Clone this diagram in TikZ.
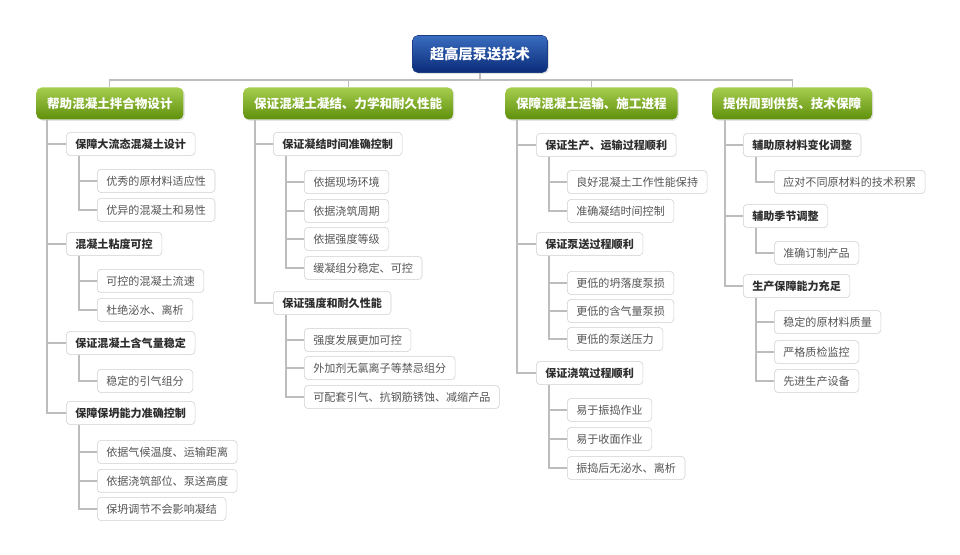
\documentclass[tikz,border=0pt]{standalone}
\usepackage{fontspec}
\setmainfont{Noto Sans CJK SC}
\usetikzlibrary{calc,shadows}
\definecolor{boxgray}{HTML}{CFCFCF}
\definecolor{conngray}{HTML}{BDBDBD}
\definecolor{textdark}{HTML}{2E2E2E}
\definecolor{textgray}{HTML}{555555}
\definecolor{greentop}{HTML}{A6CE4E}
\definecolor{greenbot}{HTML}{5F8F0C}
\definecolor{bluetop}{HTML}{3A6DC0}
\definecolor{bluebot}{HTML}{0A2B78}
\definecolor{blueline}{HTML}{1B3E85}
\tikzset{
  rootbox/.style={draw=blueline, top color=bluetop, bottom color=bluebot, rounded corners=4pt,
    text=white, font=\fontsize{10.7pt}{12pt}\selectfont\bfseries, minimum width=101.25pt, minimum height=27.75pt,
    drop shadow={opacity=0.25, shadow xshift=1pt, shadow yshift=-1pt}},
  headbox/.style={draw=none, top color=greentop, bottom color=greenbot, rounded corners=4pt,
    text=white, font=\fontsize{9.4pt}{11pt}\selectfont\bfseries, minimum height=24pt, inner xsep=8.2pt, inner ysep=0pt,
    anchor=west, drop shadow={opacity=0.2, shadow xshift=1pt, shadow yshift=-1pt}},
  lvtwo/.style={draw=boxgray, fill=white, rounded corners=3pt, text=textdark,
    font=\fontsize{8.3pt}{10pt}\selectfont\bfseries, minimum height=17.5pt, inner xsep=6.8pt, inner ysep=0pt, anchor=west},
  lvthree/.style={lvtwo, text=textgray, font=\fontsize{8.3pt}{10pt}\selectfont},
  conn/.style={draw=conngray, line width=0.8pt},
}
\begin{document}
\begin{tikzpicture}[x=0.75pt,y=-0.75pt]
\fill[white] (0,0) rectangle (960,555);
\useasboundingbox (0,0) rectangle (960,555);

% root and headers
\node[rootbox] (root) at (480,54) {超高层泵送技术};
\node[headbox] (h1) at (36,103.5) {帮助混凝土拌合物设计};
\node[headbox] (h2) at (243,103.5) {保证混凝土凝结、力学和耐久性能};
\node[headbox] (h3) at (505,103.5) {保障混凝土运输、施工进程};
\node[headbox] (h4) at (712,103.5) {提供周到供货、技术保障};
\coordinate (bus) at (480,80);
\draw[conn] (root.south) -- (bus);
\draw[conn] (h1.north) -- (h1.north |- bus) -- (h4.north |- bus) -- (h4.north);
\draw[conn] (h2.north) -- (h2.north |- bus);
\draw[conn] (h3.north) -- (h3.north |- bus);

% column 1
\node[lvtwo] (a) at (66,144) {保障大流态混凝土设计};
\node[lvthree] (a1) at (97,181) {优秀的原材料适应性};
\node[lvthree] (a2) at (97,210) {优异的混凝土和易性};
\node[lvtwo] (b) at (66,244) {混凝土粘度可控};
\node[lvthree] (b1) at (97,281) {可控的混凝土流速};
\node[lvthree] (b2) at (97,310) {杜绝泌水、离析};
\node[lvtwo] (c) at (66,343) {保证混凝土含气量稳定};
\node[lvthree] (c1) at (97,381) {稳定的引气组分};
\node[lvtwo] (d) at (66,413) {保障保坍能力准确控制};
\node[lvthree] (d1) at (97,452) {依据气候温度、运输距离};
\node[lvthree] (d2) at (97,481) {依据浇筑部位、泵送高度};
\node[lvthree] (d3) at (97,509) {保坍调节不会影响凝结};
\coordinate (t1) at (47,0);
\foreach \n in {a,b,c,d} \draw[conn] (h1.south -| t1) |- (\n.west);
\foreach \p/\n in {a/a1,a/a2,b/b1,b/b2,c/c1,d/d1,d/d2,d/d3}
  \draw[conn] ($(\p.south west)+(13,0)$) |- (\n.west);

% column 2
\node[lvtwo] (e) at (273,144) {保证凝结时间准确控制};
\node[lvthree] (e1) at (304,182) {依据现场环境};
\node[lvthree] (e2) at (304,211) {依据浇筑周期};
\node[lvthree] (e3) at (304,239) {依据强度等级};
\node[lvthree] (e4) at (304,268) {缓凝组分稳定、可控};
\node[lvtwo] (f) at (273,303) {保证强度和耐久性能};
\node[lvthree] (f1) at (304,340) {强度发展更加可控};
\node[lvthree] (f2) at (304,368) {外加剂无氯离子等禁忌组分};
\node[lvthree] (f3) at (304,397) {可配套引气、抗钢筋锈蚀、减缩产品};
\coordinate (t2) at (255,0);
\foreach \n in {e,f} \draw[conn] (h2.south -| t2) |- (\n.west);
\foreach \p/\n in {e/e1,e/e2,e/e3,e/e4,f/f1,f/f2,f/f3}
  \draw[conn] ($(\p.south west)+(13,0)$) |- (\n.west);

% column 3
\node[lvtwo] (g) at (536,145) {保证生产、运输过程顺利};
\node[lvthree] (g1) at (567,182) {良好混凝土工作性能保持};
\node[lvthree] (g2) at (567,211) {准确凝结时间控制};
\node[lvtwo] (i) at (536,244) {保证泵送过程顺利};
\node[lvthree] (i1) at (567,283) {更低的坍落度泵损};
\node[lvthree] (i2) at (567,311) {更低的含气量泵损};
\node[lvthree] (i3) at (567,339) {更低的泵送压力};
\node[lvtwo] (j) at (536,373) {保证浇筑过程顺利};
\node[lvthree] (j1) at (567,410) {易于振捣作业};
\node[lvthree] (j2) at (567,439) {易于收面作业};
\node[lvthree] (j3) at (567,468) {振捣后无泌水、离析};
\coordinate (t3) at (517,0);
\foreach \n in {g,i,j} \draw[conn] (h3.south -| t3) |- (\n.west);
\foreach \p/\n in {g/g1,g/g2,i/i1,i/i2,i/i3,j/j1,j/j2,j/j3}
  \draw[conn] ($(\p.south west)+(13,0)$) |- (\n.west);

% column 4
\node[lvtwo] (k) at (743,145) {辅助原材料变化调整};
\node[lvthree] (k1) at (774,182) {应对不同原材料的技术积累};
\node[lvtwo] (m) at (743,216) {辅助季节调整};
\node[lvthree] (m1) at (774,253) {准确订制产品};
\node[lvtwo] (n) at (743,286) {生产保障能力充足};
\node[lvthree] (n1) at (774,322) {稳定的原材料质量};
\node[lvthree] (n2) at (774,352) {严格质检监控};
\node[lvthree] (n3) at (774,381) {先进生产设备};
\coordinate (t4) at (725,0);
\foreach \n in {k,m,n} \draw[conn] (h4.south -| t4) |- (\n.west);
\foreach \p/\n in {k/k1,m/m1,n/n1,n/n2,n/n3}
  \draw[conn] ($(\p.south west)+(13,0)$) |- (\n.west);
\end{tikzpicture}
\end{document}
